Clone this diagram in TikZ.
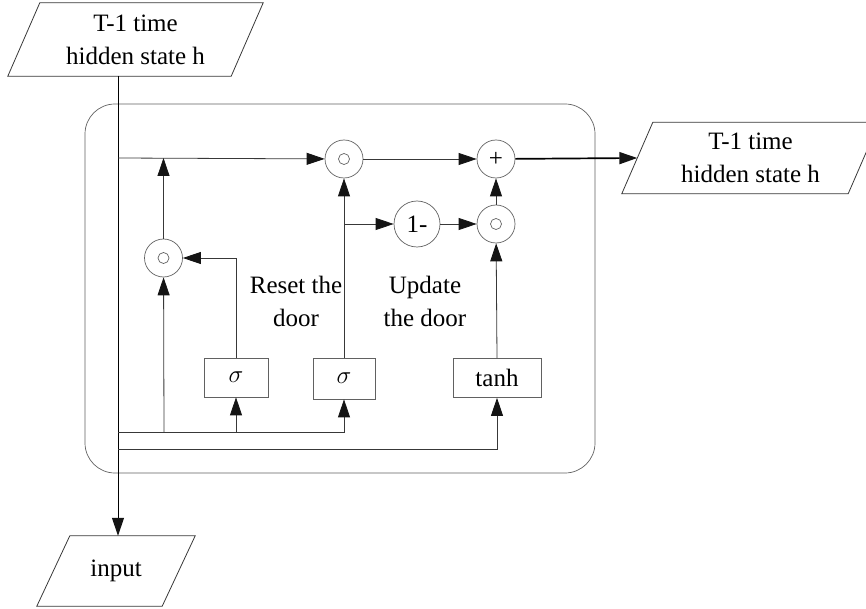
\documentclass[tikz,border=0pt]{standalone}
\usepackage{fontspec}
\setmainfont{Liberation Serif}
\usetikzlibrary{arrows.meta,calc}
% parallelogram around a (borderless) node: top edge shifted right, bottom edge left
\newcommand\drawpara[2]{%
  \draw[wire] ([xshift=#2]#1.north west) -- ([xshift=#2]#1.north east)
    -- ([xshift=-#2]#1.south east) -- ([xshift=-#2]#1.south west) -- cycle;}
\begin{document}
\begin{tikzpicture}[x=1pt,y=-1pt,
  every node/.style={font=\fontsize{25}{33}\selectfont},
  wire/.style={draw=black!78,line width=0.8pt},
  arr/.style={wire,-{Triangle[length=18pt,width=12pt,color=black!92]}},
  gate/.style={circle,draw=black!62,line width=0.7pt,minimum size=38pt,inner sep=0pt},
  fbox/.style={rectangle,draw=black!62,line width=0.7pt,minimum height=39pt,inner sep=0pt},
  para/.style={align=center,inner sep=0pt},
  lbl/.style={align=center,inner sep=0pt}]
\useasboundingbox (0,0) rectangle (866,609);

% cell frame
\draw[draw=black!62,line width=0.7pt,rounded corners=30pt] (85,104) rectangle (595,473);

% input / output parallelograms
\node[para,minimum width=223pt,minimum height=73pt] (hin) at (135.5,39.5) {T-1 time\\hidden state h};
\drawpara{hin}{16pt}
\node[para,minimum width=226pt,minimum height=71pt] (hout) at (750.5,158) {T-1 time\\hidden state h};
\drawpara{hout}{15.5pt}
\node[para,minimum width=125pt,minimum height=70pt] (inp) at (116,571) {input};
\drawpara{inp}{16.5pt}

% gates
\node[gate] (c1) at (344,159) {};
\node[gate] (plus) at (496,159) {+};
\node[gate,minimum size=46pt] (om) at (417,224) {1-};
\node[gate] (c3) at (496,224) {};
\node[gate] (c2) at (163.5,258) {};
\foreach \g in {c1,c3,c2} \draw[draw=black!62,line width=0.7pt] (\g) circle[radius=5.5];

% activation boxes
\node[fbox,minimum width=64pt] (s1) at (236,377.5) {$\sigma$};
\node[fbox,minimum width=62pt,minimum height=41pt] (s2) at (344,378.5) {$\sigma$};
\node[fbox,minimum width=88pt] (tanh) at (497,378) {tanh};

% labels
\node[lbl] (reset) at (296,301) {Reset the\\door};
\node[lbl] (update) at (425,301) {Update\\the door};

% junction points
\coordinate (jtop) at (118,158);
\coordinate (ja) at (164,432);
\coordinate (jb) at (118,449);
\coordinate (jc) at (344,224);

% main input line
\draw[arr,draw=black,line width=1pt] (hin.south -| jtop) -- (inp.north -| jtop);

% upper path
\draw[arr] (jtop) -- (c1);
\draw[arr] (c1) -- (plus);
\draw[arr,draw=black,line width=1.7pt] (plus) -- (hout.west);

% reset branch
\draw[arr] (c2) -- (c2 |- jtop);
\draw[arr] (ja) -- (c2);
\draw[arr] (s1.north) |- (c2);
\draw[arr] (jtop |- ja) -| (s2.south);
\draw[arr] (s1.south |- ja) -- (s1.south);
\draw[arr] (s2.north) -- (c1);

% update branch
\draw[arr] (jc) -- (om);
\draw[arr] (om) -- (c3);
\draw[arr] (c3) -- (plus);
\draw[arr] (jb) -| (tanh.south);
\draw[arr] (tanh.north) -- (c3);
\end{tikzpicture}
\end{document}
